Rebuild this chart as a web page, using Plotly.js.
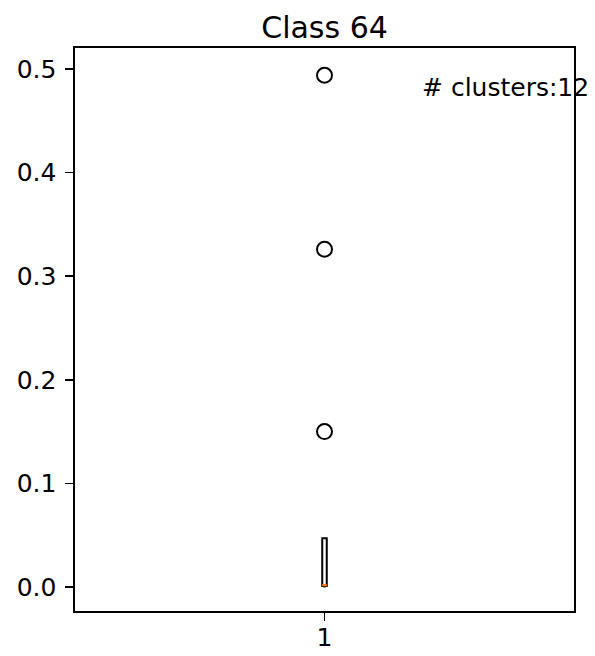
<!DOCTYPE html>
<html>
<head>
<meta charset="utf-8">
<script src="https://cdn.plot.ly/plotly-3.0.1.min.js"></script>
<style>html,body{margin:0;padding:0;background:#fff;}#chart{width:595px;height:656px;}</style>
</head>
<body>
<div id="chart"></div>
<script>
// Cluster values for Class 64 (12 clusters)
const clusterValues = [0.0005, 0.0008, 0.001, 0.001, 0.0012, 0.0015, 0.002, 0.004, 0.0127, 0.150, 0.326, 0.494];
const boxPosition = [1];
const xTickVals = [1];
const xTickText = ['1'];
const yTickVals = [0.0, 0.1, 0.2, 0.3, 0.4, 0.5];
const yTickText = ['0.0', '0.1', '0.2', '0.3', '0.4', '0.5'];
const titleText = 'Class 64';
const annotationText = '# clusters:12';

function quantile(sorted, p) {
  const pos = p * (sorted.length - 1);
  const lo = Math.floor(pos), hi = Math.ceil(pos);
  return sorted[lo] + (sorted[hi] - sorted[lo]) * (pos - lo);
}
const s = clusterValues.slice().sort((a, b) => a - b);
const q1 = quantile(s, 0.25), med = quantile(s, 0.5), q3 = quantile(s, 0.75);
const iqr = q3 - q1;
const inliers = s.filter(v => v >= q1 - 1.5 * iqr && v <= q3 + 1.5 * iqr);
const lowW = Math.min(...inliers), highW = Math.max(...inliers);
const outliers = s.filter(v => v < q1 - 1.5 * iqr || v > q3 + 1.5 * iqr);
const boxWidth = 0.009;

const traces = [
  {
    type: 'box', x: boxPosition, q1: [q1], median: [med], q3: [q3],
    lowerfence: [lowW], upperfence: [highW], width: boxWidth, whiskerwidth: 0.5,
    fillcolor: 'rgba(0,0,0,0)', line: {color: '#000', width: 2},
    boxpoints: false, hoverinfo: 'skip', showlegend: false
  },
  {
    type: 'scatter', mode: 'lines',
    x: [boxPosition[0] - boxWidth / 2, boxPosition[0] + boxWidth / 2], y: [med, med],
    line: {color: '#ff7f0e', width: 2.4}, showlegend: false, hoverinfo: 'skip'
  },
  {
    type: 'scatter', mode: 'markers',
    x: outliers.map(() => boxPosition[0]), y: outliers,
    marker: {symbol: 'circle-open', size: 15, color: '#000', line: {width: 2, color: '#000'}},
    showlegend: false, hoverinfo: 'skip'
  }
];

const font = {family: 'DejaVu Sans', color: '#000'};
const layout = {
  width: 595, height: 656,
  margin: {l: 75, r: 21, t: 48, b: 45},
  paper_bgcolor: '#fff', plot_bgcolor: '#fff',
  font: Object.assign({size: 25}, font),
  title: {text: titleText, font: Object.assign({size: 30}, font), x: 0.5454, xanchor: 'center', y: 0.958, yanchor: 'middle'},
  xaxis: {
    range: [0.5, 1.5], tickvals: xTickVals, ticktext: xTickText,
    showgrid: false, zeroline: false, showline: true, mirror: true,
    linecolor: '#000', linewidth: 1.6, ticks: 'outside', ticklen: 8, tickwidth: 1.6, tickcolor: '#000',
    ticklabelstandoff: -5,
    tickfont: Object.assign({size: 25}, font)
  },
  yaxis: {
    range: [-0.0232, 0.5203], tickvals: yTickVals, ticktext: yTickText,
    showgrid: false, zeroline: false, showline: true, mirror: true,
    linecolor: '#000', linewidth: 1.6, ticks: 'outside', ticklen: 8, tickwidth: 1.6, tickcolor: '#000',
    ticklabelstandoff: 4,
    tickfont: Object.assign({size: 25}, font)
  },
  annotations: [{
    text: annotationText, xref: 'paper', yref: 'paper', x: 0.692, y: 0.93,
    xanchor: 'left', yanchor: 'middle', showarrow: false,
    font: Object.assign({size: 25}, font)
  }]
};
Plotly.newPlot('chart', traces, layout, {displayModeBar: false, staticPlot: true});
</script>
</body>
</html>
